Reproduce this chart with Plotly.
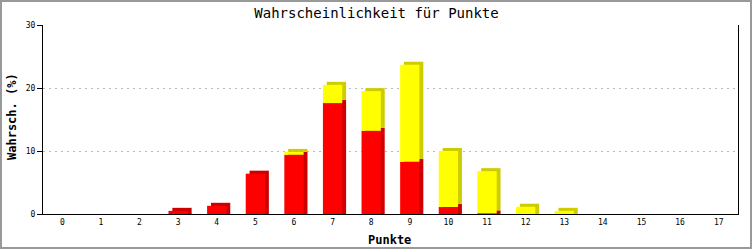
import plotly.graph_objects as go

categories = list(range(18))
red_vals = [0, 0, 0, 0.5, 1.3, 6.4, 9.4, 17.6, 13.2, 8.3, 1.1, 0.1, 0, 0, 0, 0, 0, 0]
yellow_vals = [0, 0, 0, 0, 0, 0, 0.45, 2.9, 6.3, 15.4, 8.9, 6.7, 1.15, 0.5, 0, 0, 0, 0]
tick_vals_y = [0, 10, 20, 30]

RED = "#FF0000"
RED_DARK = "#CC0000"
YEL = "#FFFF00"
YEL_DARK = "#CCCC00"

BAR_W = 0.5
DX = 0.1    # depth offset in category units
DY = 0.48   # depth offset in value units

fig = go.Figure()

# depth (back) blocks
fig.add_trace(go.Bar(
    x=categories, y=[(r + DY) if r > 0 else 0 for r in red_vals],
    base=[0] * len(categories),
    width=BAR_W, offset=-BAR_W / 2 + DX,
    marker=dict(color=RED_DARK, line=dict(width=0)), hoverinfo="skip",
))
fig.add_trace(go.Bar(
    x=categories, y=[(y + (DY if r == 0 else 0)) if y > 0 else 0 for r, y in zip(red_vals, yellow_vals)],
    base=[(r + DY) if r > 0 else 0 for r in red_vals],
    width=BAR_W, offset=-BAR_W / 2 + DX,
    marker=dict(color=YEL_DARK, line=dict(width=0)), hoverinfo="skip",
))
# front faces
fig.add_trace(go.Bar(
    x=categories, y=red_vals, base=[0] * len(categories),
    width=BAR_W, offset=-BAR_W / 2,
    marker=dict(color=RED, line=dict(width=0)), name="rot",
))
fig.add_trace(go.Bar(
    x=categories, y=yellow_vals, base=red_vals,
    width=BAR_W, offset=-BAR_W / 2,
    marker=dict(color=YEL, line=dict(width=0)), name="gelb",
))

L, R, T, B = 43, 15, 25, 36
W, H = 753, 250
pw, ph = W - L - R, H - T - B

mono = "DejaVu Sans Mono"

def px_x(p):
    return (p - L) / pw

def px_y(p):
    return (H - B - p) / ph

fig.update_layout(
    width=W, height=H,
    margin=dict(l=L, r=R, t=T, b=B, autoexpand=False),
    barmode="overlay",
    showlegend=False,
    paper_bgcolor="white",
    plot_bgcolor="white",
    title=dict(text="Wahrscheinlichkeit für Punkte", x=0.5, xanchor="center",
               y=1 - 13 / H, yanchor="middle",
               font=dict(family=mono, size=14, color="black")),
    xaxis=dict(
        range=[-0.5, 17.5], tickmode="array", tickvals=categories,
        ticktext=[str(c) for c in categories],
        showgrid=False, zeroline=False, automargin=False,
        showline=True, linecolor="black", linewidth=1, mirror=False,
        ticks="", tickfont=dict(family=mono, size=8, color="black"),
    ),
    yaxis=dict(
        range=[0, 30], tickmode="array", tickvals=tick_vals_y,
        showgrid=True, gridcolor="#BBBBBB", griddash="2px,4px", gridwidth=1,
        zeroline=False, automargin=False,
        showline=True, linecolor="black", linewidth=1, mirror=True,
        ticks="outside", ticklen=5, tickcolor="black",
        tickfont=dict(family=mono, size=8, color="black"),
    ),
    annotations=[
        dict(text="<b>Punkte</b>", xref="paper", yref="paper",
             x=px_x(389), y=px_y(240), xanchor="center", yanchor="middle",
             showarrow=False, font=dict(family=mono, size=12, color="black")),
        dict(text="<b>Wahrsch. (%)</b>", xref="paper", yref="paper",
             x=px_x(12), y=px_y(117), xanchor="center", yanchor="middle",
             textangle=-90,
             showarrow=False, font=dict(family=mono, size=12, color="black")),
    ],
    shapes=[dict(
        type="rect", xref="paper", yref="paper",
        x0=px_x(1), x1=px_x(W - 2),
        y0=px_y(H - 2), y1=px_y(1),
        line=dict(color="#999999", width=2), fillcolor="rgba(0,0,0,0)",
        layer="below",
    )],
)

fig.write_html("out.html")
